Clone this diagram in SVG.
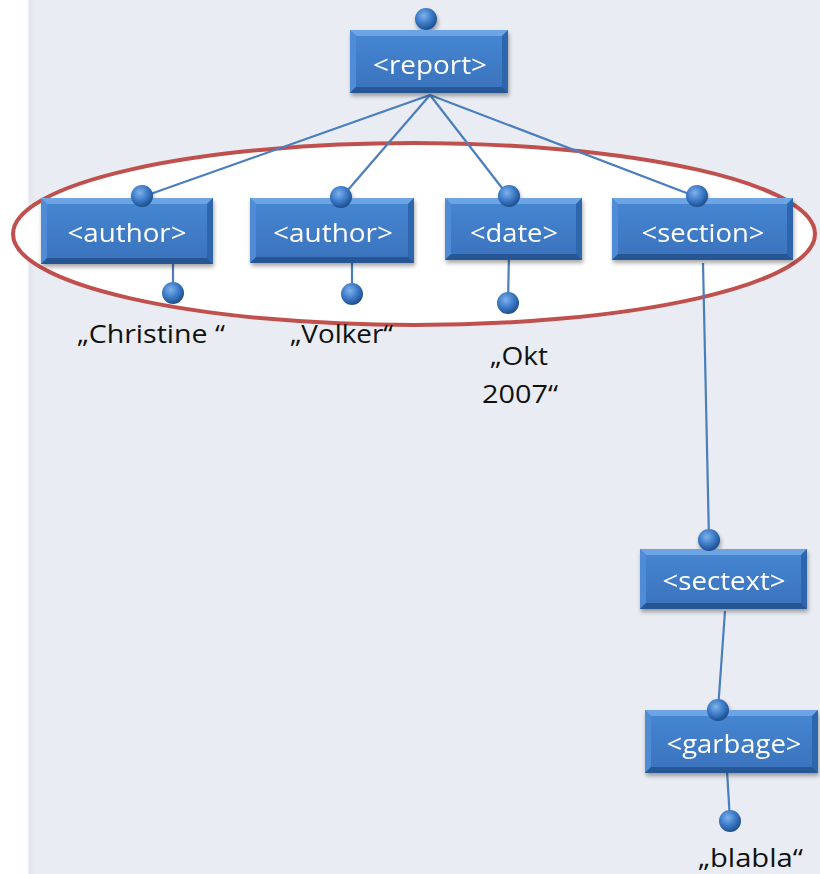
<svg xmlns="http://www.w3.org/2000/svg" width="820" height="874" viewBox="0 0 820 874">
  <defs>
    <linearGradient id="face" x1="0" y1="0" x2="0" y2="1">
      <stop offset="0" stop-color="#4787D3"/>
      <stop offset="1" stop-color="#3A72BC"/>
    </linearGradient>
    <radialGradient id="ball" cx="0.4" cy="0.35" r="0.65">
      <stop offset="0" stop-color="#7FB2EC"/>
      <stop offset="0.55" stop-color="#3D7BC8"/>
      <stop offset="1" stop-color="#1F4F8E"/>
    </radialGradient>
    <linearGradient id="edge" x1="0" y1="0" x2="1" y2="0">
      <stop offset="0" stop-color="#FFFFFF"/>
      <stop offset="0.3" stop-color="#E2E6EC"/>
      <stop offset="1" stop-color="#E9ECF2"/>
    </linearGradient>
    <filter id="shadow" x="-10%" y="-10%" width="120%" height="140%">
      <feGaussianBlur in="SourceAlpha" stdDeviation="2"/>
      <feOffset dx="1" dy="3" result="b"/>
      <feComponentTransfer><feFuncA type="linear" slope="0.35"/></feComponentTransfer>
      <feMerge><feMergeNode/><feMergeNode in="SourceGraphic"/></feMerge>
    </filter>
  </defs>
  <style>
    .lbl { font-family: "Open Sans", "Liberation Sans", sans-serif; font-size: 26px; fill: #FFFFFF; text-anchor: middle; }
    .val { font-family: "Open Sans", "Liberation Sans", sans-serif; font-size: 26px; fill: #111111; }
    .top { fill: #6DA5E4; }
    .lft { fill: #4F8CD5; }
    .rgt { fill: #2E66AE; }
    .bot { fill: #285794; }
    .wire { stroke: #4A7EBF; stroke-width: 2.2; fill: none; }
    .knob { fill: url(#ball); }
  </style>

  <!-- page background -->
  <rect x="0" y="0" width="820" height="874" fill="#E9ECF2"/>
  <rect x="0" y="0" width="27" height="874" fill="#FFFFFF"/>
  <rect x="27" y="0" width="8" height="874" fill="url(#edge)"/>

  <!-- highlight ellipse around the first level -->
  <ellipse id="group-ring" cx="414" cy="234" rx="401" ry="91" fill="#FFFFFF" stroke="#C0504D" stroke-width="4"/>

  <!-- connectors -->
  <g id="connectors" class="wire">
    <line x1="430" y1="95" x2="142" y2="197"/>
    <line x1="430" y1="95" x2="341" y2="198"/>
    <line x1="430" y1="95" x2="509" y2="197"/>
    <line x1="430" y1="95" x2="697" y2="197"/>
    <line x1="173" y1="255" x2="173" y2="293"/>
    <line x1="352" y1="255" x2="352" y2="294"/>
    <line x1="509" y1="252" x2="508" y2="302"/>
    <line x1="703" y1="263" x2="709" y2="540"/>
    <line x1="725" y1="611" x2="718" y2="710"/>
    <line x1="727" y1="770" x2="730" y2="821"/>
  </g>

  <!-- report -->
  <g id="report" filter="url(#shadow)">
    <rect x="350" y="30" width="158" height="63" fill="url(#face)"/>
    <polygon class="top" points="350,30 508,30 502,36 356,36"/>
    <polygon class="lft" points="350,30 356,36 356,87 350,93"/>
    <polygon class="rgt" points="508,30 508,93 502,87 502,36"/>
    <polygon class="bot" points="350,93 508,93 502,87 356,87"/>
    <circle class="knob" cx="426" cy="19" r="11"/>
    <text class="lbl" x="430" y="74" textLength="114" lengthAdjust="spacingAndGlyphs">&lt;report&gt;</text>
  </g>

  <!-- author 1 -->
  <g id="author1" filter="url(#shadow)">
    <rect x="41" y="198" width="172" height="66" fill="url(#face)"/>
    <polygon class="top" points="41,198 213,198 207,204 47,204"/>
    <polygon class="lft" points="41,198 47,204 47,258 41,264"/>
    <polygon class="rgt" points="213,198 213,264 207,258 207,204"/>
    <polygon class="bot" points="41,264 213,264 207,258 47,258"/>
    <circle class="knob" cx="142" cy="196" r="11"/>
    <text class="lbl" x="127" y="242" textLength="119" lengthAdjust="spacingAndGlyphs">&lt;author&gt;</text>
  </g>
  <g id="author1-value">
    <circle class="knob" cx="173" cy="293" r="11"/>
    <text class="val" x="77" y="343" textLength="148" lengthAdjust="spacingAndGlyphs">„Christine “</text>
  </g>

  <!-- author 2 -->
  <g id="author2" filter="url(#shadow)">
    <rect x="250" y="198" width="164" height="65" fill="url(#face)"/>
    <polygon class="top" points="250,198 414,198 408,204 256,204"/>
    <polygon class="lft" points="250,198 256,204 256,257 250,263"/>
    <polygon class="rgt" points="414,198 414,263 408,257 408,204"/>
    <polygon class="bot" points="250,263 414,263 408,257 256,257"/>
    <circle class="knob" cx="341" cy="197" r="11"/>
    <text class="lbl" x="333" y="242" textLength="120" lengthAdjust="spacingAndGlyphs">&lt;author&gt;</text>
  </g>
  <g id="author2-value">
    <circle class="knob" cx="352" cy="294" r="11"/>
    <text class="val" x="290" y="343" textLength="103" lengthAdjust="spacingAndGlyphs">„Volker“</text>
  </g>

  <!-- date -->
  <g id="date" filter="url(#shadow)">
    <rect x="445" y="198" width="137" height="62" fill="url(#face)"/>
    <polygon class="top" points="445,198 582,198 576,204 451,204"/>
    <polygon class="lft" points="445,198 451,204 451,254 445,260"/>
    <polygon class="rgt" points="582,198 582,260 576,254 576,204"/>
    <polygon class="bot" points="445,260 582,260 576,254 451,254"/>
    <circle class="knob" cx="509" cy="196" r="11"/>
    <text class="lbl" x="514" y="242" textLength="88" lengthAdjust="spacingAndGlyphs">&lt;date&gt;</text>
  </g>
  <g id="date-value">
    <circle class="knob" cx="508" cy="303" r="11"/>
    <text class="val" x="490" y="365" textLength="58" lengthAdjust="spacingAndGlyphs">„Okt</text>
    <text class="val" x="482" y="403" textLength="76" lengthAdjust="spacingAndGlyphs">2007“</text>
  </g>

  <!-- section -->
  <g id="section" filter="url(#shadow)">
    <rect x="612" y="198" width="181" height="62" fill="url(#face)"/>
    <polygon class="top" points="612,198 793,198 787,204 618,204"/>
    <polygon class="lft" points="612,198 618,204 618,254 612,260"/>
    <polygon class="rgt" points="793,198 793,260 787,254 787,204"/>
    <polygon class="bot" points="612,260 793,260 787,254 618,254"/>
    <circle class="knob" cx="697" cy="196" r="11"/>
    <text class="lbl" x="703" y="242" textLength="123" lengthAdjust="spacingAndGlyphs">&lt;section&gt;</text>
  </g>

  <!-- sectext -->
  <g id="sectext" filter="url(#shadow)">
    <rect x="640" y="549" width="167" height="60" fill="url(#face)"/>
    <polygon class="top" points="640,549 807,549 801,555 646,555"/>
    <polygon class="lft" points="640,549 646,555 646,603 640,609"/>
    <polygon class="rgt" points="807,549 807,609 801,603 801,555"/>
    <polygon class="bot" points="640,609 807,609 801,603 646,603"/>
    <circle class="knob" cx="709" cy="540" r="11"/>
    <text class="lbl" x="724" y="590" textLength="123" lengthAdjust="spacingAndGlyphs">&lt;sectext&gt;</text>
  </g>

  <!-- garbage -->
  <g id="garbage" filter="url(#shadow)">
    <rect x="645" y="710" width="173" height="63" fill="url(#face)"/>
    <polygon class="top" points="645,710 818,710 812,716 651,716"/>
    <polygon class="lft" points="645,710 651,716 651,767 645,773"/>
    <polygon class="rgt" points="818,710 818,773 812,767 812,716"/>
    <polygon class="bot" points="645,773 818,773 812,767 651,767"/>
    <circle class="knob" cx="718" cy="710" r="11"/>
    <text class="lbl" x="734" y="753" textLength="135" lengthAdjust="spacingAndGlyphs">&lt;garbage&gt;</text>
  </g>
  <g id="garbage-value">
    <circle class="knob" cx="730" cy="821" r="11"/>
    <text class="val" x="698" y="867" textLength="105" lengthAdjust="spacingAndGlyphs">„blabla“</text>
  </g>
</svg>
